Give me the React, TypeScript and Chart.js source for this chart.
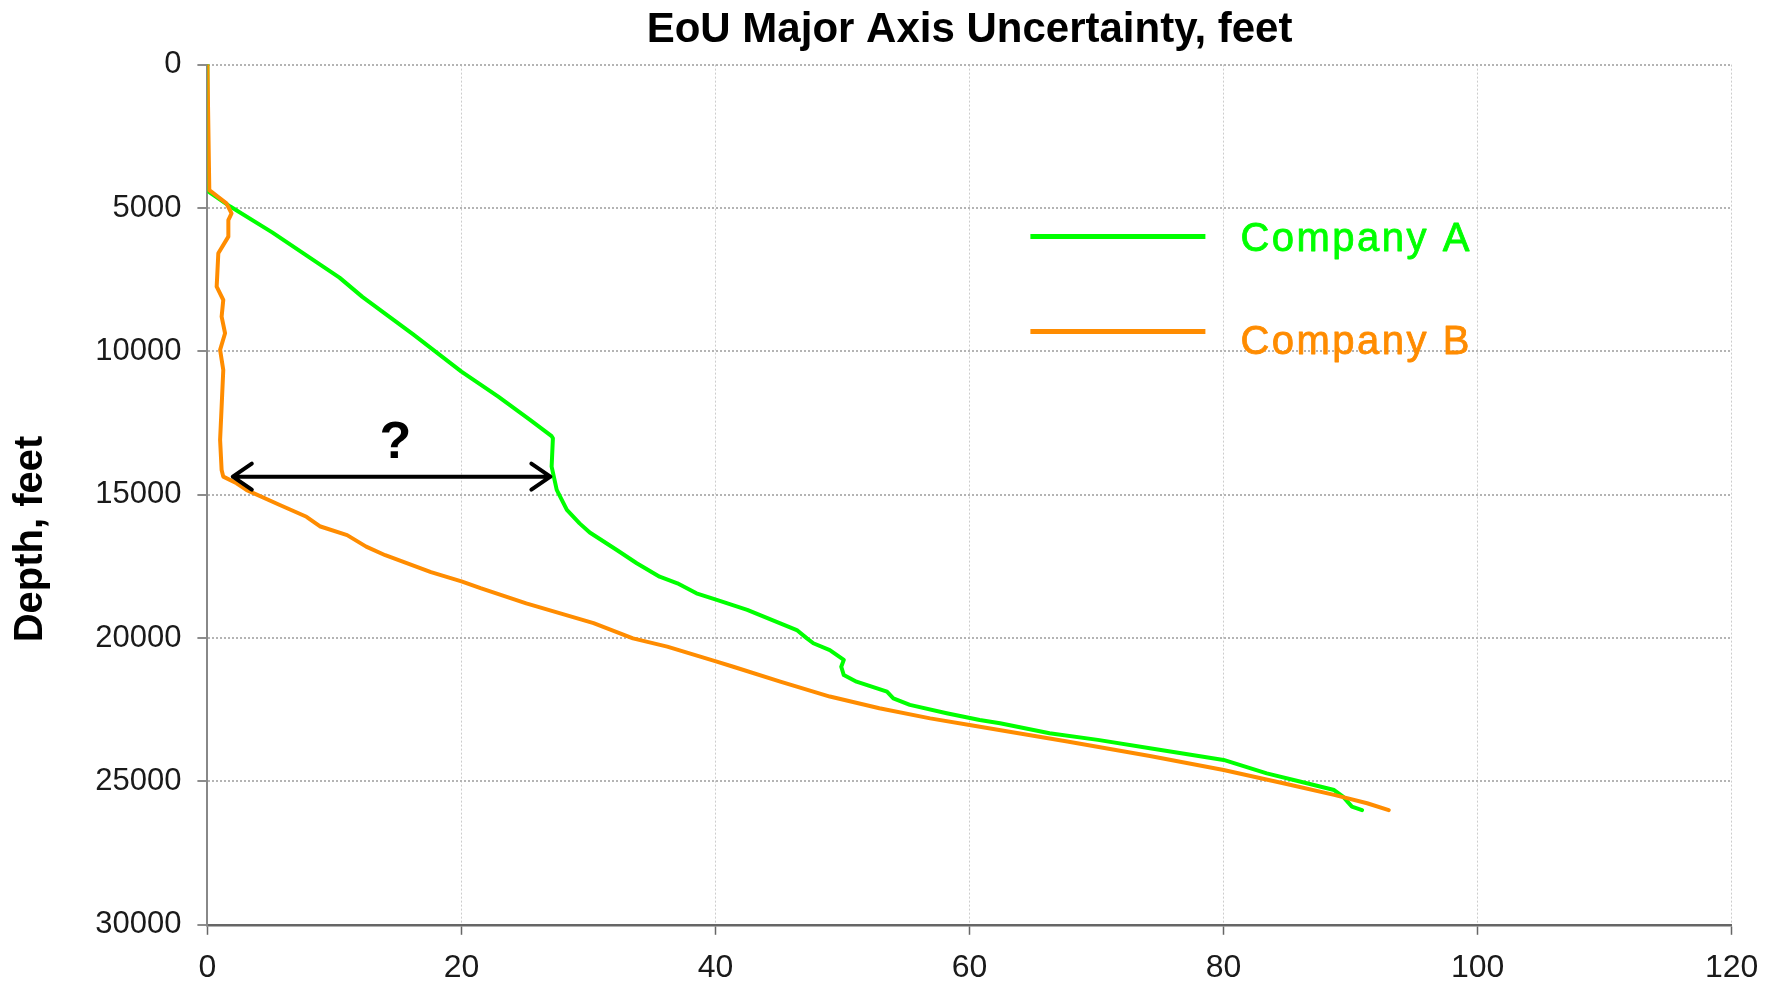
import React, { useEffect, useRef } from "react";
import { Chart, registerables } from "chart.js";

Chart.register(...registerables);

const TITLE = "EoU Major Axis Uncertainty, feet";
const Y_TITLE = "Depth, feet";
const SERIES_NAMES = ["Company A", "Company B"];
const SERIES_COLORS = ["#00ff00", "#ff8c00"];

// Company A (green)
const companyADepth = [
  0, 4400, 4950, 5850, 7430, 8100, 9410, 10710, 11580, 12390, 12960, 13030, 14020, 14830,
  15530, 16000, 16320, 16920, 17390, 17860, 18090, 18440, 18670, 19020, 19490, 19720, 20010,
  20180, 20420, 20760, 21000, 21290, 21520, 21870, 22100, 22330, 22620, 22860, 22970, 23320,
  23550, 23845, 24250, 24720, 25000, 25300, 25530, 25880, 26000,
];
const companyAUncertainty = [
  0, 0, 1.8, 5.1, 10.4, 12.2, 16.2, 20.0, 22.9, 25.4, 27.1, 27.2, 27.1, 27.5,
  28.3, 29.3, 30.1, 32.2, 33.8, 35.6, 37.0, 38.5, 40.1, 42.5, 45.1, 46.4, 47.2,
  47.7, 49.0, 50.1, 49.9, 50.1, 51.1, 53.5, 54.0, 55.3, 58.2, 60.8, 62.4, 66.3,
  70.1, 74.2, 80.0, 83.4, 86.0, 88.7, 89.4, 90.1, 90.9,
];

// Company B (orange)
const companyBDepth = [
  0, 4380, 4840, 5190, 5420, 6000, 6580, 7745, 8210, 8790, 9370, 9950, 10650, 11930, 13090,
  14140, 14370, 14600, 14840, 15360, 15770, 16110, 16410, 16810, 17110, 17700, 18020, 18260,
  18790, 19480, 20010, 20300, 20820, 21000, 21520, 22040, 22450, 22800, 23030, 23610, 24110,
  24600, 25065, 25470, 25760, 26000,
];
const companyBUncertainty = [
  0, 0.15, 1.5, 1.9, 1.65, 1.65, 0.86, 0.73, 1.25, 1.12, 1.39, 1.0, 1.25, 1.12, 1.0,
  1.12, 1.25, 2.3, 3.1, 5.7, 7.8, 8.9, 11.0, 12.5, 14.0, 17.6, 20.0, 21.5,
  25.1, 30.4, 33.5, 36.2, 40.1, 41.4, 45.1, 49.0, 52.9, 56.9, 60.0, 67.7, 74.2,
  80.0, 84.7, 88.7, 91.3, 93.0,
];

const xTickValues = [0, 20, 40, 60, 80, 100, 120];
const xTickLabels = ["0", "20", "40", "60", "80", "100", "120"];
const yTickValues = [0, 5000, 10000, 15000, 20000, 25000, 30000];
const yTickLabels = ["0", "5000", "10000", "15000", "20000", "25000", "30000"];

// Annotation: double arrow with a question mark
const arrowUncertainty = [2.0, 27.0];
const arrowDepth = 14370;
const questionText = "?";
const questionUncertainty = 14.8;
const questionDepth = 13720;

const FONT = "'Liberation Sans', Arial, sans-serif";

const labelFor = (values: number[], labels: string[]) => (v: any) => {
  const idx = values.findIndex((t) => Math.abs(t - Number(v)) < 1e-6);
  return idx >= 0 ? labels[idx] : "";
};

const decorations = {
  id: "decorations",
  afterDatasetsDraw(chart: any) {
    const { ctx, chartArea, scales } = chart;
    const x = scales.x;
    const y = scales.y;
    ctx.save();

    // arrow
    const x1 = x.getPixelForValue(arrowUncertainty[0]);
    const x2 = x.getPixelForValue(arrowUncertainty[1]);
    const py = y.getPixelForValue(arrowDepth);
    ctx.strokeStyle = "#000";
    ctx.lineWidth = 4;
    ctx.lineCap = "round";
    ctx.lineJoin = "round";
    ctx.beginPath();
    ctx.moveTo(x1, py);
    ctx.lineTo(x2, py);
    ctx.moveTo(x1 + 19, py - 13);
    ctx.lineTo(x1, py);
    ctx.lineTo(x1 + 19, py + 13);
    ctx.moveTo(x2 - 19, py - 13);
    ctx.lineTo(x2, py);
    ctx.lineTo(x2 - 19, py + 13);
    ctx.stroke();

    ctx.fillStyle = "#000";
    ctx.font = `bold 52px ${FONT}`;
    ctx.textAlign = "center";
    ctx.textBaseline = "alphabetic";
    ctx.fillText(questionText, x.getPixelForValue(questionUncertainty), y.getPixelForValue(questionDepth));

    // legend (inside plot)
    const lx1 = chartArea.left + 823;
    const lx2 = chartArea.left + 998;
    const tx = chartArea.left + 1033;
    const rows = [
      { lineY: chartArea.top + 172, textY: chartArea.top + 186 },
      { lineY: chartArea.top + 267, textY: chartArea.top + 289 },
    ];
    ctx.font = `40px ${FONT}`;
    ctx.textAlign = "left";
    (ctx as any).letterSpacing = "2.5px";
    rows.forEach((r, i) => {
      ctx.strokeStyle = SERIES_COLORS[i];
      ctx.lineWidth = 5;
      ctx.lineCap = "butt";
      ctx.beginPath();
      ctx.moveTo(lx1, r.lineY);
      ctx.lineTo(lx2, r.lineY);
      ctx.stroke();
      ctx.fillStyle = SERIES_COLORS[i];
      ctx.fillText(SERIES_NAMES[i], tx, r.textY);
      ctx.strokeStyle = SERIES_COLORS[i];
      ctx.lineWidth = 0.8;
      ctx.strokeText(SERIES_NAMES[i], tx, r.textY);
    });
    (ctx as any).letterSpacing = "0px";
    ctx.restore();
  },
  afterDraw(chart: any) {
    const { ctx, chartArea } = chart;
    ctx.save();
    ctx.fillStyle = "#000";
    ctx.font = `bold 42px ${FONT}`;
    ctx.textAlign = "center";
    ctx.textBaseline = "alphabetic";
    ctx.fillText(TITLE, (chartArea.left + chartArea.right) / 2, 41.7);

    ctx.translate(31, 539);
    ctx.rotate(-Math.PI / 2);
    ctx.font = `bold 40px ${FONT}`;
    ctx.textBaseline = "middle";
    ctx.fillText(Y_TITLE, 0, 0);
    ctx.restore();
  },
};

export default function App() {
  const canvasRef = useRef<HTMLCanvasElement | null>(null);

  useEffect(() => {
    const canvas = canvasRef.current;
    if (!canvas) return;
    const dataA = companyADepth.map((d, i) => ({ x: companyAUncertainty[i], y: d }));
    const dataB = companyBDepth.map((d, i) => ({ x: companyBUncertainty[i], y: d }));

    const chart = new Chart(canvas, {
      type: "scatter",
      data: {
        datasets: [
          {
            label: SERIES_NAMES[0],
            data: dataA,
            showLine: true,
            borderColor: SERIES_COLORS[0],
            backgroundColor: SERIES_COLORS[0],
            borderWidth: 4,
            pointRadius: 0,
            borderCapStyle: "round",
            borderJoinStyle: "round",
            order: 1,
          },
          {
            label: SERIES_NAMES[1],
            data: dataB,
            showLine: true,
            borderColor: SERIES_COLORS[1],
            backgroundColor: SERIES_COLORS[1],
            borderWidth: 4,
            pointRadius: 0,
            borderCapStyle: "round",
            borderJoinStyle: "round",
            order: 0,
          },
        ],
      },
      options: {
        animation: false,
        responsive: false,
        devicePixelRatio: 1,
        layout: { padding: { top: 64.6, right: 45.3, bottom: 0, left: 0 } },
        plugins: {
          legend: { display: false },
          title: { display: false },
          tooltip: { enabled: false },
        },
        scales: {
          x: {
            type: "linear",
            min: 0,
            max: 120,
            ticks: {
              stepSize: 20,
              padding: 14,
              color: "#1a1a1a",
              font: { family: FONT, size: 32 },
              callback: labelFor(xTickValues, xTickLabels),
            },
            grid: {
              color: "#cccccc",
              lineWidth: 1,
              tickLength: 10,
              tickColor: "#666666",
              tickWidth: 1.5,
            },
            border: { display: true, color: "#666666", width: 2.5, dash: [2, 2] },
            afterFit: (scale: any) => {
              scale.height = 63.2;
            },
          },
          y: {
            type: "linear",
            reverse: true,
            min: 0,
            max: 30000,
            ticks: {
              stepSize: 5000,
              padding: 16,
              color: "#1a1a1a",
              font: { family: FONT, size: 31 },
              callback: labelFor(yTickValues, yTickLabels),
            },
            grid: {
              color: "#b4b4b4",
              lineWidth: 2,
              tickLength: 10,
              tickColor: "#666666",
              tickWidth: 1.5,
            },
            border: { display: true, color: "#888888", width: 2, dash: [2, 2] },
            afterFit: (scale: any) => {
              scale.width = 207.4;
            },
          },
        },
      },
      plugins: [decorations],
    } as any);

    return () => chart.destroy();
  }, []);

  return (
    <div style={{ position: "absolute", left: 0, top: 0, width: 1777, height: 988, background: "#fff" }}>
      <canvas ref={canvasRef} width={1777} height={988} style={{ display: "block" }} />
    </div>
  );
}
